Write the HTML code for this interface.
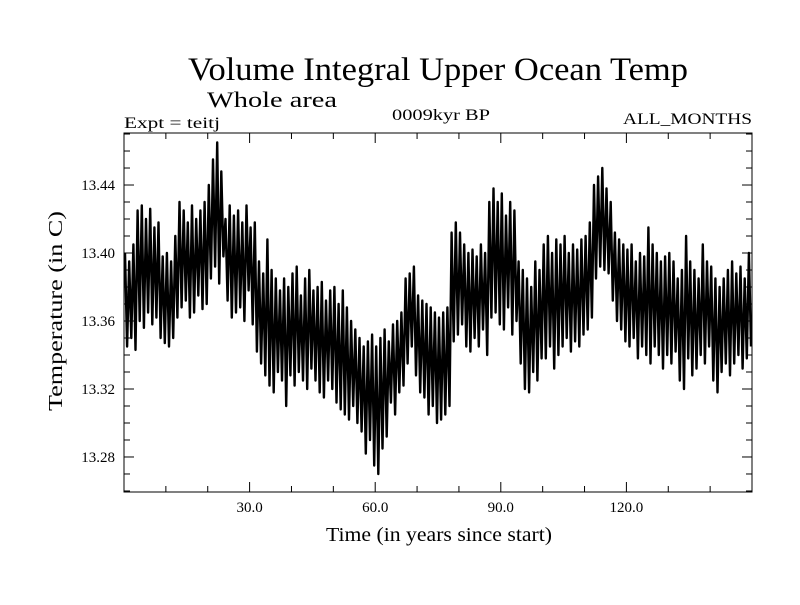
<!DOCTYPE html>
<html><head><meta charset="utf-8"><style>
body{margin:0;background:#fff}
svg text{font-family:"Liberation Serif",serif;fill:#000}
</style></head><body>
<svg id="chart" width="800" height="600" xmlns="http://www.w3.org/2000/svg">
<text x="188" y="80" font-size="33" textLength="500" lengthAdjust="spacingAndGlyphs">Volume Integral Upper Ocean Temp</text>
<text x="207" y="107" font-size="22" textLength="130" lengthAdjust="spacingAndGlyphs">Whole area</text>
<text x="124" y="128" font-size="16" textLength="96" lengthAdjust="spacingAndGlyphs">Expt = teitj</text>
<text x="392" y="120" font-size="16" textLength="98" lengthAdjust="spacingAndGlyphs">0009kyr BP</text>
<text x="623" y="124" font-size="16" textLength="129" lengthAdjust="spacingAndGlyphs">ALL_MONTHS</text>
<text x="326" y="541" font-size="20" textLength="226" lengthAdjust="spacingAndGlyphs">Time (in years since start)</text>
<text transform="translate(62,311) rotate(-90)" font-size="20" text-anchor="middle" textLength="200" lengthAdjust="spacingAndGlyphs">Temperature (in C)</text>
<g id="ticks"></g>
<path id="series" fill="none" stroke="#000" stroke-width="2.4" stroke-linejoin="round"/>
<rect x="124" y="133" width="628" height="359" fill="none" stroke="#000" stroke-width="1"/>
</svg>
<script>
const xTicks=[30,60,90,120];
const xTickLabels=["30.0","60.0","90.0","120.0"];
const yTicks=[13.28,13.32,13.36,13.40,13.44];
const yTickLabels=["13.28","13.32","13.36","13.40","13.44"];
const annualMax=[13.400,13.395,13.405,13.425,13.428,13.420,13.426,13.415,13.418,13.398,
13.400,13.395,13.410,13.430,13.425,13.418,13.428,13.420,13.425,13.430,
13.440,13.455,13.465,13.448,13.420,13.428,13.422,13.425,13.418,13.428,
13.415,13.418,13.395,13.388,13.408,13.390,13.385,13.378,13.385,13.380,
13.388,13.392,13.375,13.385,13.390,13.378,13.380,13.383,13.372,13.378,
13.380,13.370,13.378,13.368,13.360,13.355,13.350,13.345,13.348,13.352,
13.345,13.350,13.355,13.348,13.358,13.360,13.365,13.385,13.388,13.392,
13.375,13.372,13.370,13.368,13.365,13.362,13.365,13.368,13.412,13.418,
13.412,13.405,13.400,13.402,13.398,13.405,13.400,13.430,13.438,13.430,
13.435,13.422,13.430,13.425,13.395,13.390,13.385,13.380,13.395,13.390,
13.405,13.410,13.400,13.408,13.405,13.410,13.400,13.405,13.402,13.408,
13.410,13.418,13.440,13.445,13.450,13.438,13.430,13.412,13.408,13.405,
13.402,13.405,13.395,13.400,13.398,13.415,13.405,13.400,13.395,13.398,
13.400,13.395,13.385,13.390,13.410,13.395,13.390,13.385,13.405,13.395,
13.392,13.385,13.380,13.385,13.390,13.395,13.388,13.392,13.385,13.400];
const annualMin=[13.345,13.350,13.343,13.360,13.356,13.365,13.358,13.362,13.350,13.347,
13.345,13.350,13.362,13.368,13.372,13.362,13.365,13.375,13.367,13.370,
13.385,13.392,13.382,13.398,13.372,13.362,13.365,13.368,13.360,13.378,
13.358,13.342,13.335,13.328,13.322,13.318,13.330,13.325,13.310,13.328,
13.322,13.330,13.325,13.320,13.332,13.325,13.318,13.315,13.325,13.320,
13.312,13.308,13.305,13.302,13.310,13.300,13.295,13.282,13.290,13.275,
13.270,13.285,13.292,13.312,13.305,13.318,13.322,13.335,13.345,13.328,
13.318,13.315,13.305,13.310,13.300,13.302,13.305,13.310,13.348,13.352,
13.358,13.345,13.342,13.350,13.345,13.355,13.340,13.362,13.365,13.358,
13.355,13.368,13.352,13.360,13.335,13.320,13.318,13.330,13.325,13.338,
13.338,13.345,13.332,13.340,13.345,13.350,13.342,13.348,13.345,13.352,
13.355,13.362,13.385,13.392,13.390,13.388,13.372,13.360,13.355,13.348,
13.345,13.350,13.338,13.345,13.340,13.335,13.345,13.340,13.332,13.340,
13.335,13.342,13.325,13.320,13.338,13.328,13.332,13.340,13.335,13.345,
13.325,13.318,13.330,13.335,13.328,13.335,13.340,13.332,13.338,13.345];

const L=124,R=752,T=133,B=492,X0=0,X1=150,Y0=13.2594,Y1=13.4706;
function xs(v){return L+(v-X0)/(X1-X0)*(R-L);}
function ys(v){return B-(v-Y0)/(Y1-Y0)*(B-T);}
const NS="http://www.w3.org/2000/svg";
const g=document.getElementById('ticks');
function line(x1,y1,x2,y2){const l=document.createElementNS(NS,'line');
l.setAttribute('x1',x1);l.setAttribute('y1',y1);l.setAttribute('x2',x2);l.setAttribute('y2',y2);
l.setAttribute('stroke','#000');l.setAttribute('stroke-width','1');


g.appendChild(l);}
function text(x,y,s,anchor){const t=document.createElementNS(NS,'text');
t.setAttribute('x',x);t.setAttribute('y',y);t.setAttribute('font-size','15');t.setAttribute('text-anchor',anchor);t.textContent=s;


g.appendChild(t);}
for(let v=10;v<150;v+=10){const x=xs(v);const big=v%30===0;const len=big?10:6;
line(x,B,x,B-len);line(x,T,x,T+len);}
for(let v=13.26;v<13.47;v+=0.01){const y=ys(v);const big=Math.round(v*100)%4===0;const len=big?10:6;
line(L,y,L+len,y);line(R,y,R-len,y);}
xTicks.forEach((v,i)=>text(xs(v),512,xTickLabels[i],'middle'));
yTicks.forEach((v,i)=>text(L-9,ys(v)+5,yTickLabels[i],'end'));
let d='';
for(let i=0;i<annualMax.length;i++){
 d+=(i?'L':'M')+xs(i+0.25).toFixed(1)+','+ys(annualMax[i]).toFixed(1);
 d+='L'+xs(i+0.75).toFixed(1)+','+ys(annualMin[i]).toFixed(1);
}
document.getElementById('series').setAttribute('d',d);
</script>
</body></html>
